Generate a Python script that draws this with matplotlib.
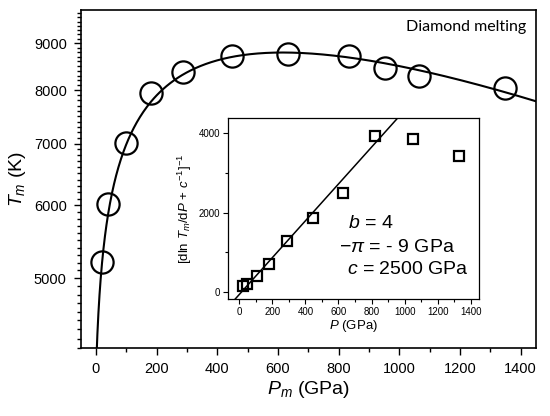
import numpy as np
import matplotlib
matplotlib.use("Agg")
import matplotlib.pyplot as plt
from matplotlib.ticker import FixedLocator, FuncFormatter, NullFormatter, MultipleLocator

plt.rcParams['font.family'] = ['Liberation Sans', 'DejaVu Sans']
plt.rcParams['mathtext.fontset'] = 'custom'
plt.rcParams['mathtext.rm'] = 'Liberation Sans'
plt.rcParams['mathtext.it'] = 'Liberation Sans:italic'
plt.rcParams['mathtext.bf'] = 'Liberation Sans:bold'

# ---- data ----
P_main = [19, 41, 99, 182, 286, 448, 634, 835, 953, 1065, 1349]          # GPa
T_main = [5211, 6020, 7018, 7942, 8383, 8719, 8756, 8719, 8454, 8293, 8042]  # K

P_inset = [24, 45, 105, 181, 289, 446, 627, 823, 1049, 1330]              # GPa
Y_inset = [144, 195, 397, 692, 1281, 1854, 2486, 3934, 3850, 3428]

# fit parameters shown in the figure
b_fit = 4.0
pi_fit = 9.0      # GPa  (-pi = -9 GPa)
c_fit = 2500.0    # GPa
T0_fit = 2250.0   # scale factor of the fitted curve

# straight fit line of the inset (end points)
fit_P = [-30, 965]
fit_Y = [-205, 4420]

main_yticks = [5000, 6000, 7000, 8000, 9000]
main_xticks = [0, 200, 400, 600, 800, 1000, 1200, 1400]
inset_xticks = [0, 200, 400, 600, 800, 1000, 1200, 1400]
inset_yticks = [0, 2000, 4000]

# ---- figure ----
fig = plt.figure(figsize=(5.5, 4.16), dpi=100)
ax = fig.add_axes([0.1467, 0.1627, 0.974 - 0.1467, 0.976 - 0.1627])

# fitted melting curve  T = T0 (P + pi)^(1/b) exp(-P/c)
s = np.geomspace(1e-3, 1460 + pi_fit, 600)
P_curve = s - pi_fit
T_curve = T0_fit * s ** (1.0 / b_fit) * np.exp(-P_curve / c_fit)
ax.plot(P_curve, T_curve, color='black', lw=1.5, zorder=2)
ax.plot(P_main, T_main, 'o', ms=16, mfc='none', mec='black', mew=1.6, zorder=3)

ax.set_yscale('log')
ax.set_xlim(-50, 1450)
ax.set_ylim(4197, 9780)
ax.yaxis.set_major_locator(FixedLocator(main_yticks))
ax.yaxis.set_minor_locator(FixedLocator([v for v in range(4200, 9800, 100) if v not in main_yticks]))
ax.yaxis.set_major_formatter(FuncFormatter(lambda v, p: f"{int(round(v))}"))
ax.yaxis.set_minor_formatter(NullFormatter())
ax.xaxis.set_major_locator(FixedLocator(main_xticks))
ax.xaxis.set_minor_locator(MultipleLocator(100))

ax.tick_params(which='both', direction='out', top=False, right=False, width=1.0, colors='black')
ax.tick_params(which='major', length=5, labelsize=10.5, pad=5)
ax.tick_params(which='minor', length=3)
for sp in ax.spines.values():
    sp.set_linewidth(1.2)

ax.set_xlabel(r'$P_m$ (GPa)', fontsize=14, labelpad=2)
ax.set_ylabel(r'$T_m$ (K)', fontsize=14, labelpad=4)
ax.text(0.98, 0.949, 'Diamond melting', transform=ax.transAxes, ha='right', va='center',
        fontsize=11.5, family=['Lato', 'DejaVu Sans'])

# ---- inset ----
ins = fig.add_axes([0.414, 0.2812, 0.871 - 0.414, 0.7156 - 0.2812])
ins.plot(fit_P, fit_Y, color='black', lw=1.1, zorder=2)
ins.plot(P_inset, Y_inset, 's', ms=7.5, mfc='none', mec='black', mew=1.6, zorder=3)
ins.set_xlim(-70, 1450)
ins.set_ylim(-180, 4380)
ins.xaxis.set_major_locator(FixedLocator(inset_xticks))
ins.xaxis.set_minor_locator(MultipleLocator(100))
ins.yaxis.set_major_locator(FixedLocator(inset_yticks))
ins.yaxis.set_minor_locator(MultipleLocator(1000))
ins.tick_params(which='both', direction='out', top=False, right=False, width=0.8)
ins.tick_params(which='major', length=3.5, labelsize=7, pad=2)
ins.tick_params(which='minor', length=2)
for sp in ins.spines.values():
    sp.set_linewidth(0.9)
ins.set_xlabel(r'$P$ (GPa)', fontsize=9.5, labelpad=1)
ins.set_ylabel(r'[dln $T_m$/d$P$ + $c^{-1}$]$^{-1}$', fontsize=9.5, labelpad=3)

ins.text(0.48, 0.419, r'$b$ = 4', transform=ins.transAxes, ha='left', va='center', fontsize=14)
ins.text(0.444, 0.286, r'$-\pi$ = - 9 GPa', transform=ins.transAxes, ha='left', va='center', fontsize=14)
ins.text(0.4735, 0.164, r'$c$ = 2500 GPa', transform=ins.transAxes, ha='left', va='center', fontsize=14)

fig.savefig('out.png', dpi=100)
